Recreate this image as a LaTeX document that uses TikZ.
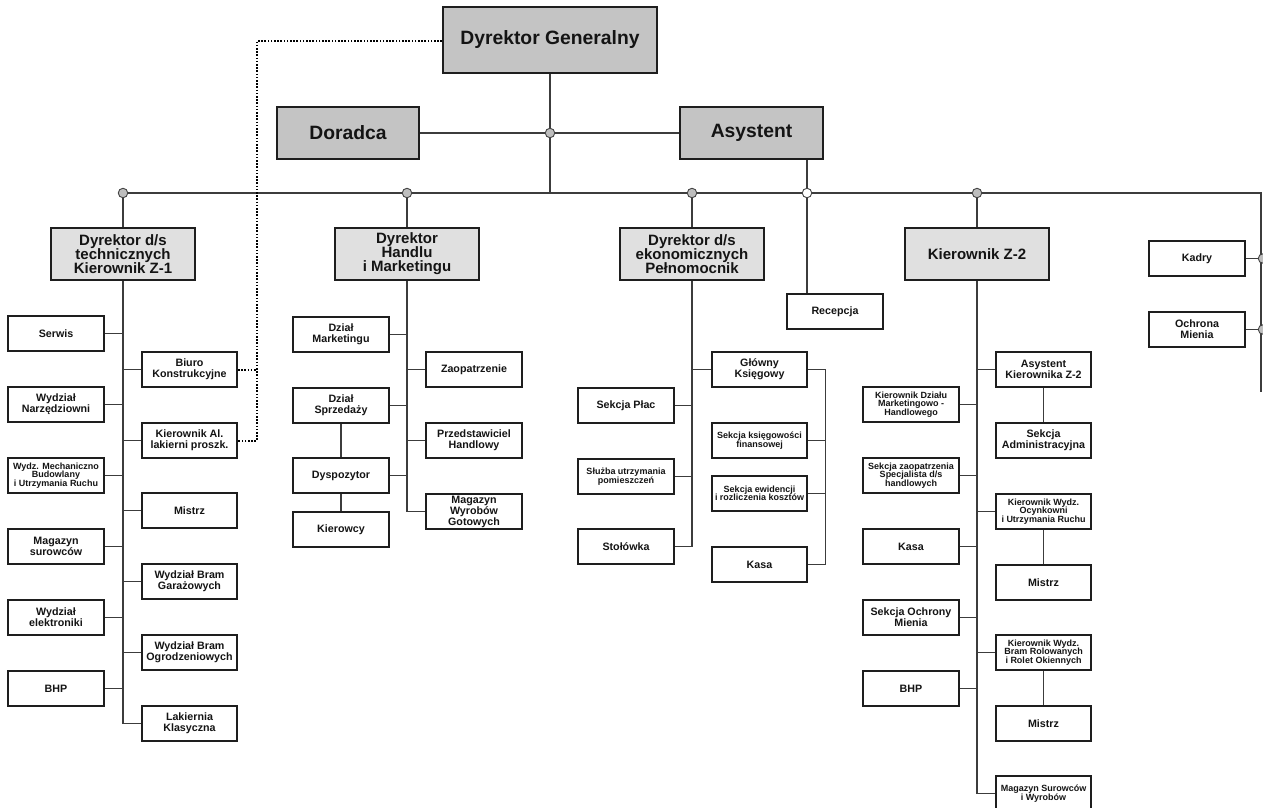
\documentclass[tikz,border=0pt]{standalone}
\usepackage{fontspec}
\setmainfont{Liberation Sans}
\definecolor{topgray}{HTML}{C4C4C4}
\definecolor{headgray}{HTML}{E0E0E0}
\definecolor{boxline}{HTML}{1E1E1E}
\definecolor{linegray}{HTML}{3C3C3C}
\definecolor{jointgray}{HTML}{BEBEBE}
\definecolor{jointline}{HTML}{444444}
\tikzset{
  boxbase/.style={draw=boxline, line width=2pt, inner sep=0pt, align=center, text=black!92},
  topbox/.style={boxbase, fill=topgray, font=\fontsize{19.3}{22}\selectfont\bfseries},
  headbox/.style={boxbase, fill=headgray, minimum width=144pt, minimum height=52pt,
    font=\fontsize{15}{14}\selectfont\bfseries},
  unit/.style={boxbase, fill=white, minimum width=96pt, minimum height=35pt,
    font=\fontsize{10.7}{11}\selectfont\bfseries},
  narrow/.style={minimum width=95pt},
  tiny/.style={unit, font=\fontsize{9}{8.5}\selectfont\bfseries},
  conn/.style={draw=linegray, line width=1.1pt},
  dots/.style={draw=black, line width=2pt, dash pattern=on 1.6pt off 1.6pt},
  joint/.style={circle, draw=jointline, fill=jointgray, line width=0.9pt,
    minimum size=9.5pt, inner sep=0pt},
  openjoint/.style={joint, fill=white},
}
\begin{document}
\begin{tikzpicture}[x=1pt,y=-1pt]
\useasboundingbox (0,0) rectangle (1263,807);
\clip (0,0) rectangle (1263,807);

% ---- management ----
\node[topbox, minimum width=214pt, minimum height=66pt] (dg) at (550,40) {Dyrektor Generalny};
\node[topbox, minimum width=142pt, minimum height=52pt] (dor) at (348,133) {Doradca};
\node[topbox, minimum width=143pt, minimum height=52pt] (asy) at (751.5,133) {Asystent};

% ---- bus points ----
\coordinate (jm) at (550,133);
\coordinate (b1) at (123,193);
\coordinate (b2) at (407,193);
\coordinate (b3) at (692,193);
\coordinate (bo) at (807,193);
\coordinate (b4) at (977,193);
\coordinate (bend) at (1261,193);
\coordinate (bbot) at (1261,392);
\coordinate (jk) at (1263,258.5);
\coordinate (jo) at (1263,329.5);
\coordinate (dcorner) at (257,41);
\coordinate (dend) at (257,440.5);
\coordinate (gkx) at (825.5,369.5);

% ---- division heads ----
\node[headbox] (z1) at (123,254) {Dyrektor d/s\\technicznych\\Kierownik Z-1};
\node[headbox] (hm) at (407,254) {Dyrektor\\Handlu\\i Marketingu};
\node[headbox] (ek) at (692,254) {Dyrektor d/s\\ekonomicznych\\Pełnomocnik};
\node[headbox] (z2) at (977,254) {Kierownik Z-2};
\node[unit] (rec) at (835,311.5) {Recepcja};
\node[unit] (kadry) at (1197,258.5) {Kadry};
\node[unit] (ochr) at (1197,329.5) {Ochrona\\Mienia};

% ---- technical division ----
\node[unit] (serwis) at (56,333.5) {Serwis};
\node[unit] (narz) at (56,404.5) {Wydział\\Narzędziowni};
\node[tiny] (mech) at (56,475.5) {Wydz. Mechaniczno\\Budowlany\\i Utrzymania Ruchu};
\node[unit] (magsur) at (56,546.5) {Magazyn\\surowców};
\node[unit] (elek) at (56,617.5) {Wydział\\elektroniki};
\node[unit] (bhpa) at (56,688.5) {BHP};
\node[unit, narrow] (biuro) at (189.5,369.5) {Biuro\\Konstrukcyjne};
\node[unit, narrow] (kieral) at (189.5,440.5) {Kierownik Al.\\lakierni proszk.};
\node[unit, narrow] (mistrza) at (189.5,510.5) {Mistrz};
\node[unit, narrow] (garaz) at (189.5,581.5) {Wydział Bram\\Garażowych};
\node[unit, narrow] (ogrodz) at (189.5,652.5) {Wydział Bram\\Ogrodzeniowych};
\node[unit, narrow] (lak) at (189.5,723.5) {Lakiernia\\Klasyczna};

% ---- trade and marketing ----
\node[unit] (dmark) at (341,334.5) {Dział\\Marketingu};
\node[unit] (dsprz) at (341,405.5) {Dział\\Sprzedaży};
\node[unit] (dysp) at (341,475.5) {Dyspozytor};
\node[unit] (kier) at (341,529.5) {Kierowcy};
\node[unit] (zaop) at (474,369.5) {Zaopatrzenie};
\node[unit] (przed) at (474,440.5) {Przedstawiciel\\Handlowy};
\node[unit] (magwg) at (474,511.5) {Magazyn\\Wyrobów\\Gotowych};

% ---- economic division ----
\node[unit, narrow] (gk) at (759.5,369.5) {Główny\\Księgowy};
\node[unit] (plac) at (626,405.5) {Sekcja Płac};
\node[tiny, narrow] (ksieg) at (759.5,440.5) {Sekcja księgowości\\finansowej};
\node[tiny] (sluzba) at (626,476.5) {Służba utrzymania\\pomieszczeń};
\node[tiny, narrow] (ewid) at (759.5,493.5) {Sekcja ewidencji\\i rozliczenia kosztów};
\node[unit] (stol) at (626,546.5) {Stołówka};
\node[unit, narrow] (kasab) at (759.5,564.5) {Kasa};

% ---- Z-2 division ----
\node[unit, narrow] (asyk) at (1043.5,369.5) {Asystent\\Kierownika Z-2};
\node[unit, narrow] (adm) at (1043.5,440.5) {Sekcja\\Administracyjna};
\node[tiny] (kdmh) at (911,404.5) {Kierownik Działu\\Marketingowo -\\Handlowego};
\node[tiny] (szaop) at (911,475.5) {Sekcja zaopatrzenia\\Specjalista d/s\\handlowych};
\node[tiny, narrow] (kwo) at (1043.5,511.5) {Kierownik Wydz.\\Ocynkowni\\i Utrzymania Ruchu};
\node[unit] (kasac) at (911,546.5) {Kasa};
\node[unit, narrow] (mistrzb) at (1043.5,582.5) {Mistrz};
\node[unit] (sochr) at (911,617.5) {Sekcja Ochrony\\Mienia};
\node[tiny, narrow] (kwbr) at (1043.5,652.5) {Kierownik Wydz.\\Bram Rolowanych\\i Rolet Okiennych};
\node[unit] (bhpb) at (911,688.5) {BHP};
\node[unit, narrow] (mistrzc) at (1043.5,723.5) {Mistrz};
\node[tiny, narrow] (magsw) at (1043.5,793.5) {Magazyn Surowców\\i Wyrobów};

% ---- top connectors ----
\draw[conn] (b1) -- (bend) -- (bbot);
\draw[conn] (dg.south) -- (b1 -| dg.south);
\draw[conn] (dor.east) -- (asy.west);
\draw[conn] (bo |- asy.south) -- (bo |- rec.north);
\draw[conn] (b1) -- (z1.north);
\draw[conn] (b2) -- (hm.north);
\draw[conn] (b3) -- (ek.north);
\draw[conn] (b4) -- (z2.north);
\draw[conn] (kadry.east) -- (jk);
\draw[conn] (ochr.east) -- (jo);

% ---- technical division connectors ----
\draw[conn] (z1.south) -- (z1.south |- lak.west);
\foreach \n in {serwis,narz,mech,magsur,elek,bhpa}
  \draw[conn] (\n.east) -- (\n.east -| z1.south);
\foreach \n in {biuro,kieral,mistrza,garaz,ogrodz,lak}
  \draw[conn] (\n.west) -- (\n.west -| z1.south);

% ---- trade connectors ----
\draw[conn] (hm.south) -- (hm.south |- magwg.west);
\foreach \n in {dmark,dsprz,dysp}
  \draw[conn] (\n.east) -- (\n.east -| hm.south);
\foreach \n in {zaop,przed,magwg}
  \draw[conn] (\n.west) -- (\n.west -| hm.south);
\draw[conn] (dsprz.south) -- (dysp.north);
\draw[conn] (dysp.south) -- (kier.north);

% ---- economic connectors ----
\draw[conn] (ek.south) -- (ek.south |- stol.east);
\foreach \n in {plac,sluzba,stol}
  \draw[conn] (\n.east) -- (\n.east -| ek.south);
\draw[conn] (gk.west) -- (gk.west -| ek.south);
\draw[conn] (gk.east) -- (gkx) -- (gkx |- kasab.east) -- (kasab.east);
\foreach \n in {ksieg,ewid}
  \draw[conn] (\n.east) -- (\n.east -| gkx);

% ---- Z-2 connectors ----
\draw[conn] (z2.south) -- (z2.south |- magsw.west);
\foreach \n in {kdmh,szaop,kasac,sochr,bhpb}
  \draw[conn] (\n.east) -- (\n.east -| z2.south);
\foreach \n in {asyk,kwo,kwbr,magsw}
  \draw[conn] (\n.west) -- (\n.west -| z2.south);
\draw[conn] (asyk.south) -- (adm.north);
\draw[conn] (kwo.south) -- (mistrzb.north);
\draw[conn] (kwbr.south) -- (mistrzc.north);

% ---- dotted link to the director ----
\draw[dots] (dg.west |- dcorner) -- (dcorner) -- (dend) -- (kieral.east);
\draw[dots] (biuro.east) -- (biuro.east -| dcorner);

% ---- junction marks ----
\node[joint] (jmn) at (jm) {};
\node[joint] (j1) at (b1) {};
\node[joint] (j2) at (b2) {};
\node[joint] (j3) at (b3) {};
\node[joint] (j4) at (b4) {};
\node[openjoint] (j5) at (bo) {};
\node[joint] (j6) at (jk) {};
\node[joint] (j7) at (jo) {};
\end{tikzpicture}
\end{document}
